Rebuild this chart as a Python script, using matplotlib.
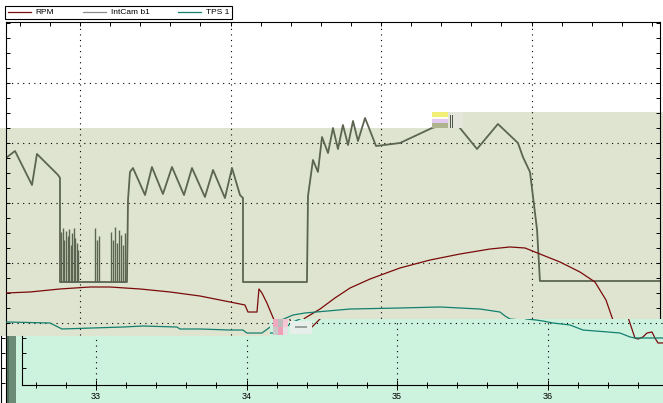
import matplotlib
matplotlib.use("Agg")
import matplotlib.pyplot as plt
from matplotlib.patches import Polygon, Rectangle
from matplotlib.lines import Line2D
from matplotlib.ticker import MultipleLocator, FixedLocator, NullLocator

# ---------------- data (time in s, value in chart divisions) ----------------
intcam_t = [32.508, 32.568, 32.681, 32.714, 32.854, 32.867, 32.867, 33.312, 33.319, 33.332,
            33.352, 33.432, 33.478, 33.551, 33.611, 33.691, 33.744, 33.830, 33.884, 33.963,
            34.010, 34.063, 34.083, 34.083, 34.508, 34.515, 34.548, 34.581, 34.608, 34.648,
            34.681, 34.714, 34.747, 34.781, 34.814, 34.847, 34.894, 34.967, 35.126, 35.339,
            35.492, 35.638, 35.777, 35.910, 35.943, 35.990, 36.037, 36.056, 36.874]
intcam_v = [27.5, 28.67, 23.0, 28.17, 24.67, 24.17, 6.83, 6.83, 20.5, 25.17,
            25.83, 21.33, 26.0, 21.5, 26.0, 21.33, 25.83, 21.0, 25.5, 20.83,
            25.83, 21.33, 20.83, 6.83, 6.83, 21.17, 27.17, 25.17, 31.0, 28.33,
            32.5, 29.0, 33.0, 29.67, 33.67, 30.33, 34.17, 29.5, 30.0, 32.5,
            33.5, 29.0, 33.17, 30.0, 27.67, 25.17, 15.5, 7.0, 7.0]
# short dropouts of the cam signal
intcam_base = 6.83
spike_t = [32.877, 32.887, 32.897, 32.907, 32.917, 32.927, 32.937, 32.947, 32.957, 32.967,
           32.977, 32.987, 33.100, 33.113, 33.126, 33.206, 33.219, 33.233, 33.246, 33.259,
           33.272, 33.286, 33.299]
spike_top = [15.17, 15.83, 13.83, 15.33, 14.5, 15.67, 13.0, 15.0, 15.83, 14.17,
             13.33, 12.17, 15.83, 13.83, 14.5, 15.17, 13.83, 16.0, 13.33, 15.5,
             14.67, 13.0, 15.0]

rpm_t = [32.508, 32.668, 32.867, 33.066, 33.199, 33.399, 33.598, 33.797, 33.997, 34.096,
         34.116, 34.176, 34.189, 34.209, 34.242, 34.295, 34.329, 34.382, 34.428, 34.495,
         34.595, 34.694, 34.794, 34.927, 35.126, 35.326, 35.525, 35.724, 35.857, 35.957,
         36.056, 36.189, 36.322, 36.422, 36.495, 36.541, 36.581, 36.601, 36.634, 36.661,
         36.694, 36.714, 36.734, 36.787, 36.874]
rpm_v = [5.0, 5.17, 5.67, 6.0, 6.0, 5.67, 5.17, 4.5, 3.5, 3.0,
         1.83, 1.83, 5.67, 5.0, 3.33, 0.17, -1.17, -1.67, -0.83, 0.83,
         2.33, 4.17, 5.83, 7.33, 9.17, 10.5, 11.5, 12.33, 12.67, 12.5,
         11.5, 10.17, 8.5, 6.83, 3.83, 0.5, -2.5, -2.67, -2.33, -1.67,
         -1.5, -2.5, -3.33, -3.33, -3.67]

tps_t = [32.508, 32.801, 32.854, 32.880, 33.086, 33.286, 33.419, 33.644, 33.664, 33.797,
         33.997, 34.083, 34.109, 34.209, 34.309, 34.415, 34.495, 34.794, 35.126, 35.392,
         35.658, 35.791, 35.824, 35.857, 35.924, 35.970, 36.037, 36.149, 36.236, 36.402,
         36.482, 36.548, 36.581, 36.874]
tps_v = [0.17, 0.0, -0.67, -1.0, -0.83, -0.67, -0.5, -0.67, -1.0, -1.0,
         -1.17, -1.17, -1.67, -1.67, 0.17, 1.33, 1.67, 2.33, 2.5, 2.67,
         2.33, 1.83, 1.17, 0.67, 0.5, 0.33, 0.0, -0.33, -1.17, -1.5,
         -1.67, -2.33, -2.5, -2.5]

legend_labels = ["RPM", "IntCam b1", "TPS 1"]
major_times = [33, 34, 35, 36]
grid_values = [0, 10, 20, 30, 40]

# ---------------- look ----------------
W, H = 663, 403
GRAY = "#5b6552"
RED = "#7b0a0a"
TEAL = "#13806f"
BEIGE = "#dee4cf"
MINT = "#cdf2de"
DOTS = (0, (1, 4))

# screenshot glitch blocks: x, y, w, h (pixels), colour
glitch_boxes = [
    (432, 112, 16, 5, "#f2ef78"), (432, 117, 16, 2, "#fbfbf2"),
    (432, 119, 16, 4, "#e2c9f2"), (432, 123, 16, 5, "#aeb48e"),
    (448, 112, 15, 16, "#e4e6dc"), (450, 115, 1, 13, "#4f574a"),
    (452, 115, 1, 13, "#4f574a"),
    (273, 319, 5, 8, "#f0a8c0"), (278, 319, 5, 8, "#bdbdbd"),
    (283, 319, 5, 8, "#f6c6d4"), (273, 327, 5, 8, "#c9c9c9"),
    (278, 327, 5, 8, "#ee9fb6"), (283, 327, 5, 8, "#e2e2e2"),
    (290, 321, 22, 13, "#e7efea"), (295, 326, 12, 2, "#9aa39b"),
]


def px_axes(l, t, r, b):
    return [l / W, 1 - b / H, (r - l) / W, (b - t) / H]


def fp(x, y):
    return (x / W, 1 - y / H)


def val(y):
    # pixel row -> chart value
    return (323 - y) / 6.0


def sec(x):
    # pixel column -> time of the upper copy
    return 33 + (x - 80) / 150.5


plt.rcParams['font.family'] = ['Liberation Sans', 'DejaVu Sans']
fig = plt.figure(figsize=(W / 100, H / 100), dpi=100)
fig.patch.set_facecolor("white")


def draw_chart(ax, ybottom, clip=None):
    xl = (sec(6), sec(660))
    ax.set_xlim(xl)
    ax.set_ylim(val(ybottom), val(22))
    arts = []
    arts.append(ax.hlines(grid_values, xl[0], xl[1], colors="black", lw=0.8, linestyles=DOTS, zorder=1))
    arts.append(ax.vlines(major_times, val(385), val(22), colors="black", lw=0.8, linestyles=DOTS, zorder=1))
    arts.append(ax.plot(intcam_t, intcam_v, color=GRAY, lw=1.3, zorder=2)[0])
    arts.append(ax.vlines(spike_t, intcam_base, spike_top, colors=GRAY, lw=1.0, zorder=2))
    arts.append(ax.plot(rpm_t, rpm_v, color=RED, lw=0.9, zorder=3)[0])
    arts.append(ax.plot(tps_t, tps_v, color=TEAL, lw=0.9, zorder=3)[0])
    if clip is not None:
        for a in arts:
            a.set_clip_path(clip)


# upper copy of the chart
ax_up = fig.add_axes(px_axes(6, 22, 660, 403))
ax_up.set_zorder(1)
ax_up.set_facecolor("white")
beige = Polygon([fp(0, 128), fp(455, 128), fp(455, 112), fp(663, 112), fp(663, 336), fp(0, 336)],
                closed=True, transform=fig.transFigure, facecolor=BEIGE, edgecolor="none",
                clip_on=False, zorder=0.5)
ax_up.add_patch(beige)
draw_chart(ax_up, 403)
ax_up.spines["bottom"].set_visible(False)
for s in ["left", "top", "right"]:
    ax_up.spines[s].set_linewidth(0.8)
ax_up.xaxis.set_major_locator(MultipleLocator(0.2))
ax_up.yaxis.set_major_locator(MultipleLocator(2.5))
ax_up.tick_params(axis="x", top=True, bottom=False, labeltop=False, labelbottom=False,
                  direction="in", length=3, width=0.7)
ax_up.tick_params(axis="y", left=True, right=True, labelleft=False, labelright=False,
                  direction="in", length=3, width=0.7)

# lower copy, shifted 16 px right, on mint
ax_low = fig.add_axes(px_axes(22, 22, 676, 385))
ax_low.set_zorder(2)
ax_low.set_facecolor("none")
mint = Polygon([fp(16, 336), fp(270, 336), fp(270, 319), fp(663, 319), fp(663, 403), fp(16, 403)],
               closed=True, transform=fig.transFigure, facecolor=MINT, edgecolor="none",
               clip_on=False, zorder=0)
ax_low.add_patch(mint)
draw_chart(ax_low, 385, clip=mint)
ax_low.spines["top"].set_visible(False)
ax_low.spines["right"].set_visible(False)
ax_low.spines["left"].set_bounds(val(385), val(336))
ax_low.spines["left"].set_linewidth(0.8)
ax_low.spines["bottom"].set_linewidth(0.8)
ax_low.xaxis.set_major_locator(FixedLocator(major_times))
ax_low.xaxis.set_minor_locator(MultipleLocator(0.2))
ax_low.xaxis.set_major_formatter(lambda v, p: f"{v:.0f}")
ax_low.tick_params(axis="x", which="major", direction="inout", length=7, width=0.7,
                   labelsize=6.5, pad=1.5)
ax_low.tick_params(axis="x", which="minor", direction="inout", length=4.5, width=0.7)
ax_low.yaxis.set_major_locator(FixedLocator([-2.5, -5, -7.5]))
ax_low.yaxis.set_minor_locator(NullLocator())
ax_low.tick_params(axis="y", left=True, labelleft=False, direction="in", length=3, width=0.7)

# ghost axis at the very left edge
ax_ghost = fig.add_axes(px_axes(1, 22, 655, 385))
ax_ghost.set_zorder(3)
ax_ghost.set_facecolor("none")
ax_ghost.set_ylim(val(385), val(22))
for s in ["top", "right", "bottom"]:
    ax_ghost.spines[s].set_visible(False)
ax_ghost.spines["left"].set_bounds(val(403), val(336))
ax_ghost.spines["left"].set_linewidth(0.8)
ax_ghost.xaxis.set_major_locator(NullLocator())
ax_ghost.yaxis.set_major_locator(FixedLocator([-2.5, -5, -7.5, -10]))
ax_ghost.tick_params(axis="y", labelleft=False, direction="in", length=3, width=0.7)

# dark bar left of the lower copy
fig.add_artist(Rectangle(fp(7, 403), 9 / W, 67 / H, transform=fig.transFigure,
                         facecolor="#6b8b76", edgecolor="none", zorder=5))
fig.add_artist(Rectangle(fp(7, 403), 2 / W, 67 / H, transform=fig.transFigure,
                         facecolor="#4f6d5a", edgecolor="none", zorder=5))

for x, y, w, h, c in glitch_boxes:
    fig.add_artist(Rectangle(fp(x, y + h), w / W, h / H, transform=fig.transFigure,
                             facecolor=c, edgecolor="none", zorder=5))

handles = [Line2D([], [], color=RED, lw=0.9),
           Line2D([], [], color="#8a8a8a", lw=0.9),
           Line2D([], [], color=TEAL, lw=0.9)]
leg = fig.legend(handles, legend_labels, loc="lower left",
                 bbox_to_anchor=(5 / W, 1 - 19 / H, 227 / W, 15 / H), mode="expand",
                 ncol=3, fontsize=6, frameon=True, fancybox=False, framealpha=1,
                 edgecolor="black", borderpad=0.3, handlelength=2.8, handletextpad=0.6,
                 borderaxespad=0)
leg.get_frame().set_linewidth(0.8)
leg.set_zorder(6)

fig.savefig("out.png", dpi=100)
